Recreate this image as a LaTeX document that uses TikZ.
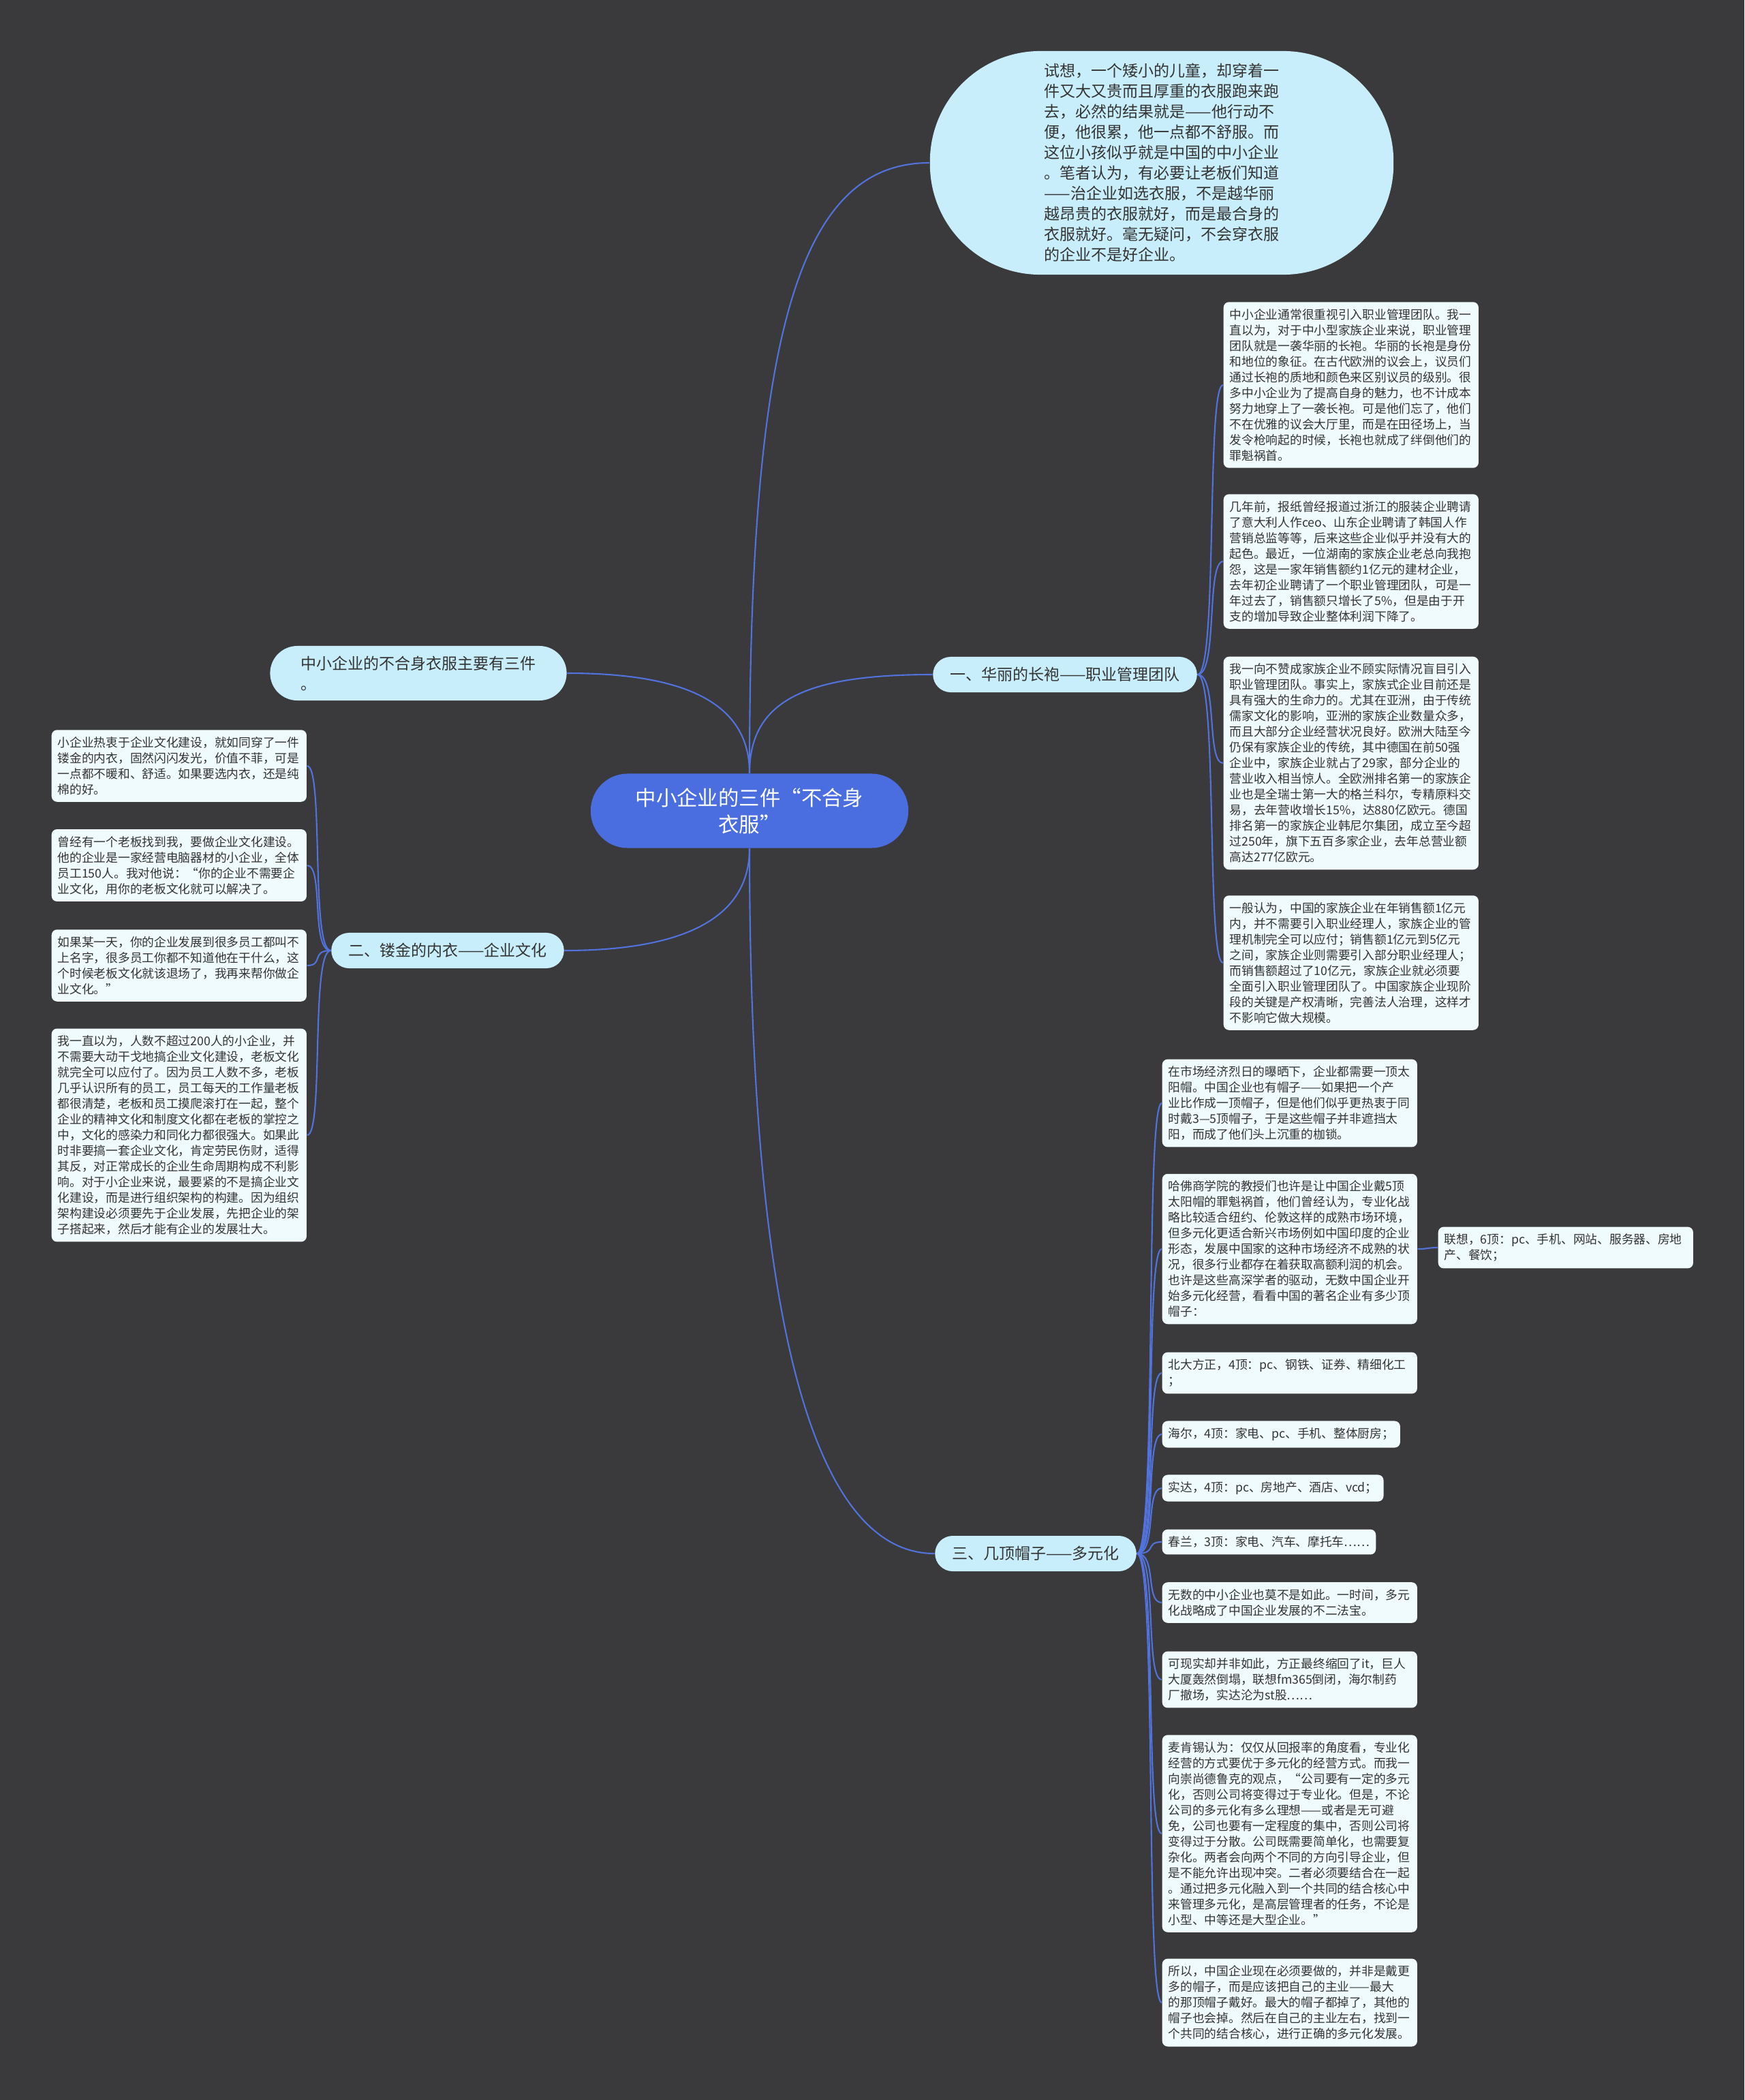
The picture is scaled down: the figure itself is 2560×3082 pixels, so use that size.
\documentclass[tikz,border=0pt]{standalone}
\usepackage{fontspec}
\setmainfont{Noto Sans CJK SC}
\definecolor{bgdark}{HTML}{3A393C}
\definecolor{rootblue}{HTML}{4A6EE0}
\definecolor{topicblue}{HTML}{C9EEFB}
\definecolor{leafwhite}{HTML}{EFFBFD}
\definecolor{linkblue}{HTML}{5272DC}
\definecolor{inkgray}{HTML}{333333}
\begin{document}
\begin{tikzpicture}[
        x=0.01cm, y=-0.01cm,
        root/.style={fill=rootblue, text=white, align=center, rounded corners=0.54cm, minimum width=4.66cm, minimum height=1.09cm, font=\fontsize{8.65pt}{11.1pt}\selectfont},
        topic/.style={fill=topicblue, text=inkgray, align=left, rounded corners=0.26cm, minimum height=0.52cm, inner xsep=0.25cm, font=\fontsize{6.54pt}{8.54pt}\selectfont},
        leaf/.style={fill=leafwhite, text=inkgray, align=left, anchor=west, rounded corners=0.08cm, inner xsep=0.09cm, inner ysep=0.1cm, font=\fontsize{5.04pt}{6.54pt}\selectfont},
        wide/.style={leaf, text width=3.56cm},
        link/.style={draw=linkblue, line width=0.6pt}
    ]
    \fill[bgdark] (0,0) rectangle (2560,3082);
    \useasboundingbox (0,0) rectangle (2560,3082);

    % centre and main topics
    \node[root] (root) at (1100,1190) {中小企业的三件“不合身\\衣服”};
    \node[topic, minimum width=6.8cm, minimum height=3.28cm, rounded corners=1.62cm] (story) at (1705,239) {试想，一个矮小的儿童，却穿着一\\件又大又贵而且厚重的衣服跑来跑\\去，必然的结果就是——他行动不\\便，他很累，他一点都不舒服。而\\这位小孩似乎就是中国的中小企业\\。笔者认为，有必要让老板们知道\\——治企业如选衣服，不是越华丽\\越昂贵的衣服就好，而是最合身的\\衣服就好。毫无疑问，不会穿衣服\\的企业不是好企业。};
    \node[topic, minimum width=4.35cm, minimum height=0.8cm, rounded corners=0.4cm] (three) at (614,988) {中小企业的不合身衣服主要有三件\\。};
    \node[topic] (robe) at (1563,990) {一、华丽的长袍——职业管理团队};
    \node[topic] (vest) at (657,1395) {二、镂金的内衣——企业文化};
    \node[topic] (hats) at (1520,2280) {三、几顶帽子——多元化};

    % robe
    \node[wide] (robe1) at (1795,565) {中小企业通常很重视引入职业管理团队。我一\\直以为，对于中小型家族企业来说，职业管理\\团队就是一袭华丽的长袍。华丽的长袍是身份\\和地位的象征。在古代欧洲的议会上，议员们\\通过长袍的质地和颜色来区别议员的级别。很\\多中小企业为了提高自身的魅力，也不计成本\\努力地穿上了一袭长袍。可是他们忘了，他们\\不在优雅的议会大厅里，而是在田径场上，当\\发令枪响起的时候，长袍也就成了绊倒他们的\\罪魁祸首。};
    \node[wide] (robe2) at (1795,824) {几年前，报纸曾经报道过浙江的服装企业聘请\\了意大利人作ceo、山东企业聘请了韩国人作\\营销总监等等，后来这些企业似乎并没有大的\\起色。最近，一位湖南的家族企业老总向我抱\\怨，这是一家年销售额约1亿元的建材企业，\\去年初企业聘请了一个职业管理团队，可是一\\年过去了，销售额只增长了5\%，但是由于开\\支的增加导致企业整体利润下降了。};
    \node[wide] (robe3) at (1795,1120) {我一向不赞成家族企业不顾实际情况盲目引入\\职业管理团队。事实上，家族式企业目前还是\\具有强大的生命力的。尤其在亚洲，由于传统\\儒家文化的影响，亚洲的家族企业数量众多，\\而且大部分企业经营状况良好。欧洲大陆至今\\仍保有家族企业的传统，其中德国在前50强\\企业中，家族企业就占了29家，部分企业的\\营业收入相当惊人。全欧洲排名第一的家族企\\业也是全瑞士第一大的格兰科尔，专精原料交\\易，去年营收增长15\%，达880亿欧元。德国\\排名第一的家族企业韩尼尔集团，成立至今超\\过250年，旗下五百多家企业，去年总营业额\\高达277亿欧元。};
    \node[wide] (robe4) at (1795,1413) {一般认为，中国的家族企业在年销售额1亿元\\内，并不需要引入职业经理人，家族企业的管\\理机制完全可以应付；销售额1亿元到5亿元\\之间，家族企业则需要引入部分职业经理人；\\而销售额超过了10亿元，家族企业就必须要\\全面引入职业管理团队了。中国家族企业现阶\\段的关键是产权清晰，完善法人治理，这样才\\不影响它做大规模。};

    % vest
    \node[wide] (vest1) at (75,1124) {小企业热衷于企业文化建设，就如同穿了一件\\镂金的内衣，固然闪闪发光，价值不菲，可是\\一点都不暖和、舒适。如果要选内衣，还是纯\\棉的好。};
    \node[wide] (vest2) at (75,1270) {曾经有一个老板找到我，要做企业文化建设。\\他的企业是一家经营电脑器材的小企业，全体\\员工150人。我对他说：“你的企业不需要企\\业文化，用你的老板文化就可以解决了。};
    \node[wide] (vest3) at (75,1417) {如果某一天，你的企业发展到很多员工都叫不\\上名字，很多员工你都不知道他在干什么，这\\个时候老板文化就该退场了，我再来帮你做企\\业文化。”};
    \node[wide] (vest4) at (75,1666) {我一直以为，人数不超过200人的小企业，并\\不需要大动干戈地搞企业文化建设，老板文化\\就完全可以应付了。因为员工人数不多，老板\\几乎认识所有的员工，员工每天的工作量老板\\都很清楚，老板和员工摸爬滚打在一起，整个\\企业的精神文化和制度文化都在老板的掌控之\\中，文化的感染力和同化力都很强大。如果此\\时非要搞一套企业文化，肯定劳民伤财，适得\\其反，对正常成长的企业生命周期构成不利影\\响。对于小企业来说，最要紧的不是搞企业文\\化建设，而是进行组织架构的构建。因为组织\\架构建设必须要先于企业发展，先把企业的架\\子搭起来，然后才能有企业的发展壮大。};

    % hats
    \node[wide] (hats1) at (1705,1619) {在市场经济烈日的曝晒下，企业都需要一顶太\\阳帽。中国企业也有帽子——如果把一个产\\业比作成一顶帽子，但是他们似乎更热衷于同\\时戴3—5顶帽子，于是这些帽子并非遮挡太\\阳，而成了他们头上沉重的枷锁。};
    \node[wide] (hats2) at (1705,1833) {哈佛商学院的教授们也许是让中国企业戴5顶\\太阳帽的罪魁祸首，他们曾经认为，专业化战\\略比较适合纽约、伦敦这样的成熟市场环境，\\但多元化更适合新兴市场例如中国印度的企业\\形态，发展中国家的这种市场经济不成熟的状\\况，很多行业都存在着获取高额利润的机会。\\也许是这些高深学者的驱动，无数中国企业开\\始多元化经营，看看中国的著名企业有多少顶\\帽子：};
    \node[wide] (lenovo) at (2110,1831) {联想，6顶：pc、手机、网站、服务器、房地\\产、餐饮；};
    \node[wide] (founder) at (1705,2015) {北大方正，4顶：pc、钢铁、证券、精细化工\\；};
    \node[leaf] (haier) at (1705,2105) {海尔，4顶：家电、pc、手机、整体厨房；};
    \node[leaf] (star) at (1705,2184) {实达，4顶：pc、房地产、酒店、vcd；};
    \node[leaf] (chunlan) at (1705,2263) {春兰，3顶：家电、汽车、摩托车……};
    \node[wide] (hats3) at (1705,2352) {无数的中小企业也莫不是如此。一时间，多元\\化战略成了中国企业发展的不二法宝。};
    \node[wide] (hats4) at (1705,2465) {可现实却并非如此，方正最终缩回了it，巨人\\大厦轰然倒塌，联想fm365倒闭，海尔制药\\厂撤场，实达沦为st股……};
    \node[wide] (hats5) at (1705,2691) {麦肯锡认为：仅仅从回报率的角度看，专业化\\经营的方式要优于多元化的经营方式。而我一\\向崇尚德鲁克的观点，“公司要有一定的多元\\化，否则公司将变得过于专业化。但是，不论\\公司的多元化有多么理想——或者是无可避\\免，公司也要有一定程度的集中，否则公司将\\变得过于分散。公司既需要简单化，也需要复\\杂化。两者会向两个不同的方向引导企业，但\\是不能允许出现冲突。二者必须要结合在一起\\。通过把多元化融入到一个共同的结合核心中\\来管理多元化，是高层管理者的任务，不论是\\小型、中等还是大型企业。”};
    \node[wide] (hats6) at (1705,2939) {所以，中国企业现在必须要做的，并非是戴更\\多的帽子，而是应该把自己的主业——最大\\的那顶帽子戴好。最大的帽子都掉了，其他的\\帽子也会掉。然后在自己的主业左右，找到一\\个共同的结合核心，进行正确的多元化发展。};

    % connectors
    \draw[link] (root.north) .. controls +(0,-650) and +(-190,0) .. (story.west);
    \draw[link] (root.north) .. controls +(0,-110) and +(-180,0) .. (robe.west);
    \draw[link] (root.north) .. controls +(0,-110) and +(160,0) .. (three.east);
    \draw[link] (root.south) .. controls +(0,110) and +(160,0) .. (vest.east);
    \draw[link] (root.south) .. controls +(0,560) and +(-210,0) .. (hats.west);
    \foreach \n in {robe1,robe2,robe3,robe4}
        \draw[link] (robe.east) .. controls +(30,0) and +(-25,0) .. (\n.west);
    \foreach \n in {vest1,vest2,vest3,vest4}
        \draw[link] (vest.west) .. controls +(-30,0) and +(25,0) .. (\n.east);
    \foreach \n in {hats1,hats2,founder,haier,star,chunlan,hats3,hats4,hats5,hats6}
        \draw[link] (hats.east) .. controls +(30,0) and +(-25,0) .. (\n.west);
    \draw[link] (hats2.east) .. controls +(15,0) and +(-15,0) .. (lenovo.west);
\end{tikzpicture}
\end{document}
